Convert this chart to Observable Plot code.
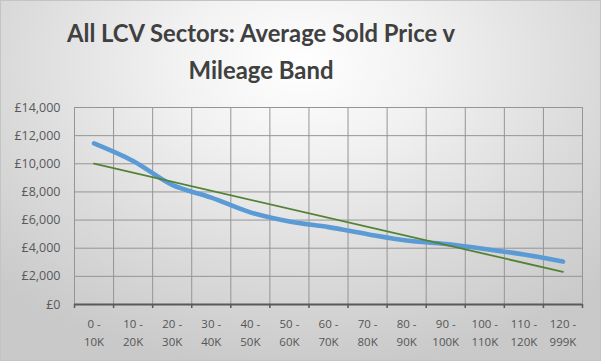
<!DOCTYPE html>
<html><head><meta charset="utf-8">
<script src="https://cdn.jsdelivr.net/npm/d3@7"></script>
<script src="https://cdn.jsdelivr.net/npm/@observablehq/plot@0.6"></script>
<style>
html,body{margin:0;padding:0;background:#fff;}
#chart{width:601px;height:361px;position:relative;overflow:hidden;
 background:radial-gradient(ellipse 72% 85% at 50% 18%, #ffffff 0%, #f1f1f1 30%, #dcdcdc 65%, #c9c9c9 100%);
 box-shadow: inset 0 0 0 1px #c4c4c4;}
#chart svg{position:absolute;left:0;top:0;}
</style></head><body><div id="chart"></div>
<script>
const titleLines = ["All LCV Sectors: Average Sold Price v", "Mileage Band"];
const bands = ["0 - 10K","10 - 20K","20 - 30K","30 - 40K","40 - 50K","50 - 60K","60 - 70K","70 - 80K","80 - 90K","90 - 100K","100 - 110K","110 - 120K","120 - 999K"];
const avgPrice = [11450,10200,8500,7600,6550,5900,5500,5000,4550,4300,3950,3550,3050];
const yTicks = [0,2000,4000,6000,8000,10000,12000,14000];

const data = bands.map((band, i) => ({i, band, price: avgPrice[i]}));
const idx = d3.range(bands.length);
const edges = d3.range(bands.length + 1).map(k => k - 0.5);

const plot = Plot.plot({
  width: 601, height: 361,
  marginLeft: 74, marginRight: 19, marginTop: 107, marginBottom: 57,
  x: {type: "linear", domain: [-0.5, bands.length - 0.5], label: null},
  y: {domain: [0, 14000], label: null},
  style: {background: "transparent", fontFamily: "'Open Sans', sans-serif", color: "#595959"},
  marks: [
    Plot.ruleX(edges, {stroke: "#959595", strokeWidth: 1}),
    Plot.ruleY(yTicks, {stroke: "#959595", strokeWidth: 1}),
    Plot.axisY({ticks: yTicks, tickSize: 0, tickPadding: 14, fontSize: 12.5, fill: "#595959", label: null,
      tickFormat: d => "£" + d3.format(",")(d)}),
    Plot.axisX({ticks: edges, tickSize: 4, tickFormat: () => "", stroke: "#595959", strokeWidth: 1.5, strokeOpacity: 1, label: null}),
    Plot.axisX({ticks: idx, tickSize: 0, tickPadding: 10, fontSize: 11.5, lineHeight: 1.6, fill: "#555555", label: null,
      tickFormat: i => bands[i].replace(" - ", " -\n")}),
    Plot.ruleY([0], {stroke: "#595959", strokeWidth: 2}),
    Plot.line(data, {x: "i", y: "price", stroke: "#5b9bd5", strokeWidth: 4.6, strokeLinecap: "round", strokeLinejoin: "round", curve: "catmull-rom"}),
    Plot.linearRegressionY(data, {x: "i", y: "price", stroke: "#548235", strokeWidth: 1.8, ci: 0})
  ]
});

const svg = d3.select(plot);
const tg = svg.append("g").attr("fill", "#404040").attr("font-family", "Lato, 'Open Sans', sans-serif")
  .attr("font-weight", "bold").attr("font-size", 25).attr("text-anchor", "middle");
const titleBaselines = [42, 79];
const titleWidths = [388, 145];
titleLines.forEach((t, k) => {
  tg.append("text").attr("x", 261).attr("y", titleBaselines[k])
    .attr("textLength", titleWidths[k]).attr("lengthAdjust", "spacingAndGlyphs").text(t);
});
document.getElementById("chart").appendChild(plot);
</script></body></html>
